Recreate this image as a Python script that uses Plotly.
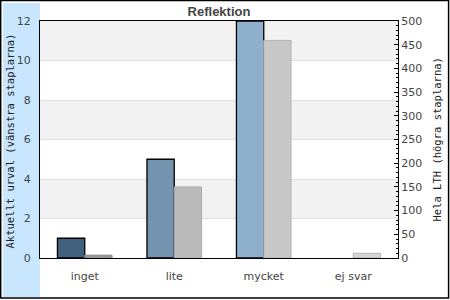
import plotly.graph_objects as go

categories = ["inget", "lite", "mycket", "ej svar"]
urval_values = [1, 5, 12, 0]          # left axis (Aktuellt urval)
lth_values = [6, 150, 459, 10]         # right axis (Hela LTH)
urval_colors = ["#42617f", "#7493ae", "#8fb0cc", "#a8c4dc"]
lth_colors = ["#9a9a9a", "#bbbbbb", "#c8c8c8", "#d6d6d6"]
lth_line_colors = ["#888888", "#aaaaaa", "#b4b4b4", "#b4b4b4"]
left_ticks = [0, 2, 4, 6, 8, 10, 12]
right_ticks = [0, 50, 100, 150, 200, 250, 300, 350, 400, 450, 500]

W, H = 450, 300
L, R, T, B = 40, 52, 21, 42
PW, PH = W - L - R, H - T - B


def px(x):
    return (x - L) / PW


def py(y):
    return (H - B - y) / PH


fig = go.Figure()
fig.add_trace(go.Bar(
    x=categories, y=urval_values, yaxis="y",
    width=0.305, offset=-0.305,
    marker=dict(color=urval_colors,
                line=dict(color="black", width=[1.3 if v else 0 for v in urval_values])),
    name="Aktuellt urval", showlegend=False,
))
fig.add_trace(go.Bar(
    x=categories, y=lth_values, yaxis="y2",
    width=0.305, offset=0,
    marker=dict(color=lth_colors, line=dict(color=lth_line_colors, width=1)),
    name="Hela LTH", showlegend=False,
))

shapes = []
# left light-blue panel
shapes.append(dict(type="rect", xref="paper", yref="paper",
                   x0=px(3), x1=px(40), y0=py(297), y1=py(3),
                   fillcolor="#c8e7ff", line=dict(width=0), layer="below"))
# alternating bands
for k in range(0, 12, 4):
    shapes.append(dict(type="rect", xref="paper", yref="y",
                       x0=0, x1=1, y0=k + 2, y1=k + 4,
                       fillcolor="#f2f2f2", line=dict(width=0), layer="below"))
# outer border
shapes.append(dict(type="rect", xref="paper", yref="paper",
                   x0=px(0.7), x1=px(448.6), y0=py(298), y1=py(0.6),
                   line=dict(color="black", width=1.5), fillcolor="rgba(0,0,0,0)"))

tickfont = dict(family="DejaVu Sans", size=11, color="#444444")
titlefont = dict(family="DejaVu Sans Mono", size=10.5, color="#222222")

fig.update_layout(
    width=W, height=H,
    margin=dict(l=L, r=R, t=T, b=B, pad=0),
    paper_bgcolor="white", plot_bgcolor="white",
    barmode="overlay",
    title=dict(text="<b>Reflektion</b>", x=0.5, xref="paper", xanchor="center",
               y=1 - 11 / H, yref="container", yanchor="middle",
               font=dict(family="Liberation Sans", size=13, color="#444444")),
    xaxis=dict(showline=True, linecolor="black", linewidth=1, mirror=True,
               ticks="outside", ticklen=8, tickcolor="rgba(0,0,0,0)",
               tickfont=tickfont, showgrid=False, range=[-0.5, 3.5]),
    yaxis=dict(range=[0, 12], tickvals=left_ticks, showline=True, linecolor="black",
               linewidth=1, ticks="outside", ticklen=6, tickcolor="rgba(0,0,0,0)",
               tickfont=tickfont, showgrid=True, gridcolor="#e0e0e0", gridwidth=1,
               zeroline=False),
    yaxis2=dict(range=[0, 500], tickvals=right_ticks, overlaying="y", side="right",
                showline=True, linecolor="black", linewidth=1,
                ticks="inside", ticklen=4, tickcolor="black", tickwidth=1,
                minor=dict(ticks="inside", dtick=10, ticklen=2, tickcolor="black"),
                tickfont=tickfont, showgrid=False, zeroline=False),
    shapes=shapes,
    annotations=[
        dict(text="Aktuellt urval (vänstra staplarna)", textangle=-90,
             xref="paper", yref="paper", x=px(9.5), y=py(141),
             xanchor="center", yanchor="middle", showarrow=False, font=titlefont),
        dict(text="Hela LTH (högra staplarna)", textangle=-90,
             xref="paper", yref="paper", x=px(436.5), y=py(140),
             xanchor="center", yanchor="middle", showarrow=False, font=titlefont),
    ],
)

fig.write_html("out.html")
